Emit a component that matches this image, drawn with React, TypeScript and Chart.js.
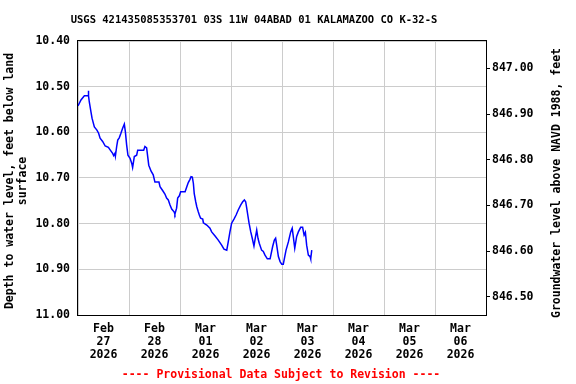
import React, { useEffect, useRef } from "react";
import { Chart, registerables } from "chart.js";

Chart.register(...registerables);

// Hours since Feb 27 2026 00:00
const hours = [
  0, 1.4, 3.0, 4.8, 4.9, 5.0, 5.3, 6.1, 6.6, 7.7, 8.9, 9.7, 10.4, 11.6, 12.8, 14.3, 15.2, 16.3, 16.8, 17.4,
  17.6, 18.2, 18.7, 19.4, 20.2, 21.0, 21.8, 22.3, 22.9, 23.5, 24.5, 25.3, 25.7, 26.5, 27.6, 28.1, 30.9, 31.5,
  32.3, 32.8, 33.3, 34.4, 35.4, 36.2, 38.1, 38.6, 39.9, 40.9, 41.7, 42.5, 43.3, 44.1, 45.2, 45.6, 46.4, 46.9,
  47.7, 48.3, 50.4, 51.2, 51.9, 52.7, 53.2, 53.8, 54.3, 54.7, 55.4, 55.9, 56.6, 57.1, 57.7, 58.7, 59.0, 60.6,
  62.1, 62.9, 64.5, 66.0, 67.6, 68.7, 70.0, 70.7, 71.5, 72.3, 73.4, 74.4, 75.4, 76.6, 77.5, 78.3, 78.9, 79.4,
  79.9, 80.5, 81.3, 82.0, 82.8, 83.4, 84.1, 84.7, 85.3, 86.4, 87.2, 88.0, 89.1, 90.4, 91.6, 92.4, 93.0, 93.5,
  94.3, 95.1, 95.9, 96.6, 97.3, 97.9, 99.0, 100.1, 100.8, 101.3, 102.0, 102.9, 103.7, 104.8, 105.7, 106.4,
  107.0, 107.6, 108.4, 109.2, 109.5, 110.0,
];

// Depth to water level, feet below land surface
const depth = [
  10.542, 10.529, 10.52, 10.52, 10.509, 10.52, 10.533, 10.555, 10.569, 10.588, 10.595, 10.602, 10.613, 10.62,
  10.63, 10.633, 10.639, 10.646, 10.651, 10.646, 10.652, 10.631, 10.617, 10.612, 10.602, 10.591, 10.582, 10.599,
  10.628, 10.65, 10.657, 10.668, 10.677, 10.653, 10.65, 10.639, 10.639, 10.631, 10.634, 10.653, 10.672, 10.685,
  10.693, 10.709, 10.709, 10.719, 10.728, 10.735, 10.744, 10.748, 10.759, 10.768, 10.774, 10.779, 10.766,
  10.744, 10.739, 10.73, 10.73, 10.719, 10.71, 10.703, 10.697, 10.698, 10.712, 10.734, 10.752, 10.763, 10.774,
  10.781, 10.788, 10.79, 10.798, 10.803, 10.81, 10.818, 10.827, 10.836, 10.847, 10.856, 10.858, 10.84, 10.818,
  10.799, 10.79, 10.781, 10.77, 10.759, 10.752, 10.748, 10.752, 10.766, 10.781, 10.799, 10.818, 10.832, 10.849,
  10.832, 10.814, 10.832, 10.843, 10.858, 10.861, 10.869, 10.877, 10.877, 10.85, 10.836, 10.832, 10.847,
  10.872, 10.883, 10.889, 10.889, 10.872, 10.858, 10.84, 10.818, 10.81, 10.828, 10.854, 10.828, 10.818,
  10.808, 10.808, 10.825, 10.819, 10.847, 10.869, 10.872, 10.877, 10.858,
];

const dayLabels = [
  ["Feb", "27", "2026"],
  ["Feb", "28", "2026"],
  ["Mar", "01", "2026"],
  ["Mar", "02", "2026"],
  ["Mar", "03", "2026"],
  ["Mar", "04", "2026"],
  ["Mar", "05", "2026"],
  ["Mar", "06", "2026"],
];

const leftTicks = [10.4, 10.5, 10.6, 10.7, 10.8, 10.9, 11.0];
const rightTicks = [846.5, 846.6, 846.7, 846.8, 846.9, 847.0];
const landSurface = 857.46;

const titleText = "USGS 421435085353701 03S 11W 04ABAD 01 KALAMAZOO CO K-32-S";
const footerText = "---- Provisional Data Subject to Revision ----";
const leftTitle = ["Depth to water level, feet below land", "surface"];
const rightTitle = "Groundwater level above NAVD 1988, feet";

const FONT = '"DejaVu Sans Mono", monospace';

const textPlugin = {
  id: "texts",
  afterDraw(chart: any) {
    const { ctx, chartArea } = chart;
    ctx.save();
    // border
    ctx.strokeStyle = "#000";
    ctx.lineWidth = 1;
    ctx.strokeRect(
      Math.round(chartArea.left) - 0.5,
      Math.round(chartArea.top) - 0.5,
      Math.round(chartArea.right - chartArea.left) + 1,
      Math.round(chartArea.bottom - chartArea.top) + 1
    );
    ctx.textAlign = "center";
    ctx.textBaseline = "middle";
    ctx.fillStyle = "#000";
    ctx.font = `bold 10.5px ${FONT}`;
    ctx.fillText(titleText, 254, 20);
    ctx.fillStyle = "#ff0000";
    ctx.font = `bold 11.5px ${FONT}`;
    ctx.fillText(footerText, 281, 375);
    ctx.fillStyle = "#000";
    // left title
    ctx.save();
    ctx.translate(10, 181);
    ctx.rotate(-Math.PI / 2);
    ctx.fillText(leftTitle[0], 0, 0);
    ctx.fillText(leftTitle[1], 0, 13);
    ctx.restore();
    // right title
    ctx.save();
    ctx.translate(557, 183);
    ctx.rotate(-Math.PI / 2);
    ctx.fillText(rightTitle, 0, 0);
    ctx.restore();
    ctx.restore();
  },
};

export default function App() {
  const ref = useRef<HTMLCanvasElement>(null);
  useEffect(() => {
    if (!ref.current) return;
    const tickFont = { family: FONT, size: 11.5, weight: "bold" as const, lineHeight: 1.1 };
    const chart = new Chart(ref.current, {
      type: "line",
      data: {
        datasets: [
          {
            data: hours.map((h, i) => ({ x: h, y: depth[i] })),
            borderColor: "#0000ff",
            borderWidth: 1.5,
            pointRadius: 0,
            fill: false,
            tension: 0,
            yAxisID: "y",
          },
        ],
      },
      options: {
        animation: false,
        responsive: false,
        maintainAspectRatio: false,
        layout: { padding: { top: 41, left: 0, right: 0, bottom: 0 } },
        plugins: { legend: { display: false }, title: { display: false }, tooltip: { enabled: false } },
        scales: {
          x: {
            type: "linear",
            min: 0,
            max: 192,
            afterBuildTicks: (s: any) => {
              const t = [];
              for (let v = 0; v <= 192; v += 12) t.push({ value: v });
              s.ticks = t;
            },
            afterFit: (s: any) => {
              s.height = 69;
            },
            ticks: {
              autoSkip: false,
              maxRotation: 0,
              minRotation: 0,
              padding: 8,
              color: "#000",
              font: tickFont,
              callback: (v: any) => (v % 24 === 12 ? dayLabels[Math.floor(v / 24)] : ""),
            },
            grid: {
              drawTicks: false,
              color: (c: any) => (c.tick && c.tick.value % 24 === 0 ? "#cccccc" : "rgba(0,0,0,0)"),
            },
            border: { display: false },
          },
          y: {
            position: "left",
            reverse: true,
            min: 10.4,
            max: 11.0,
            afterBuildTicks: (s: any) => {
              s.ticks = leftTicks.map((v) => ({ value: v }));
            },
            afterFit: (s: any) => {
              s.width = 78;
            },
            ticks: {
              padding: 8,
              color: "#000",
              font: tickFont,
              callback: (v: any) => Number(v).toFixed(2),
            },
            grid: { drawTicks: false, color: "#cccccc" },
            border: { display: false },
          },
          y2: {
            position: "right",
            min: landSurface - 11.0,
            max: landSurface - 10.4,
            afterBuildTicks: (s: any) => {
              s.ticks = rightTicks.map((v) => ({ value: v }));
            },
            afterFit: (s: any) => {
              s.width = 90;
            },
            ticks: {
              padding: 2,
              color: "#000",
              font: tickFont,
              callback: (v: any) => Number(v).toFixed(2),
            },
            grid: { drawOnChartArea: false, drawTicks: true, tickLength: 4, color: "#000" },
            border: { display: false },
          },
        },
      },
      plugins: [textPlugin],
    });
    return () => chart.destroy();
  }, []);
  return (
    <div style={{ position: "absolute", left: 0, top: 0, width: 576, height: 384, background: "#fff" }}>
      <canvas ref={ref} width={576} height={384} style={{ width: 576, height: 384 }} />
    </div>
  );
}
